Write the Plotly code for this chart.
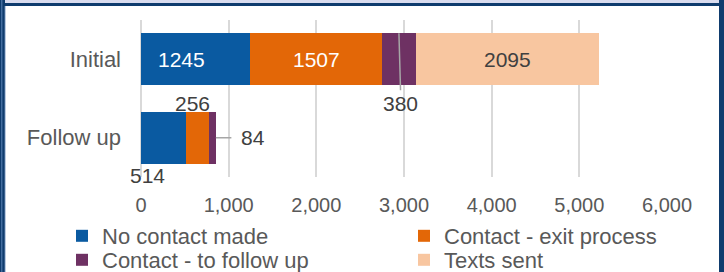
import plotly.graph_objects as go

# ---------------- data ----------------
categories = ["Initial", "Follow up"]
series_names = ["No contact made", "Contact - exit process", "Contact - to follow up", "Texts sent"]
no_contact = [1245, 514]
exit_process = [1507, 256]
to_follow_up = [380, 84]
texts_sent = [2095, None]
x_tickvals = [0, 1000, 2000, 3000, 4000, 5000, 6000]
x_ticktext = ["0", "1,000", "2,000", "3,000", "4,000", "5,000", "6,000"]

# ---------------- style ----------------
colors = ["#0A5AA1", "#E36707", "#6E3163", "#F8C6A0"]
legend_ids = ["legend", "legend2", "legend3", "legend4"]
FONT = "Liberation Sans, Arial, sans-serif"
W, H = 724, 272
L, R, T, B = 141, 57, 20, 95
PW, PH = W - L - R, H - T - B


def px_x(p):
    return (p - L) / PW


def px_y(p):
    return (H - B - p) / PH


series = [no_contact, exit_process, to_follow_up, texts_sent]
fig = go.Figure()
for name, vals, col, lg in zip(series_names, series, colors, legend_ids):
    fig.add_trace(go.Bar(
        y=categories, x=vals, name=name, orientation="h",
        marker=dict(color=col, line=dict(width=0)),
        hoverinfo="x+name", legend=lg,
    ))

# ---------------- data labels ----------------
annotations = []
lab_font = dict(family=FONT, size=21, color="#404040")


def seg_mid(i, k):
    start = sum((series[j][i] or 0) for j in range(k))
    return start + series[k][i] / 2


annotations.append(dict(x=seg_mid(0, 0), y=categories[0], text=str(no_contact[0]), showarrow=False,
                        xshift=-14, font=dict(family=FONT, size=21, color="white")))
annotations.append(dict(x=seg_mid(0, 1), y=categories[0], text=str(exit_process[0]), showarrow=False,
                        font=dict(family=FONT, size=21, color="white")))
annotations.append(dict(x=seg_mid(0, 3), y=categories[0], text=str(texts_sent[0]), showarrow=False,
                        font=lab_font))
annotations.append(dict(x=seg_mid(0, 2), y=categories[0], yshift=26, text=str(to_follow_up[0]),
                        showarrow=True, arrowhead=0, arrowwidth=1.5, arrowcolor="#A6A6A6",
                        ax=2, ay=70, standoff=0, font=lab_font))
annotations.append(dict(x=seg_mid(1, 0), y=categories[1], xshift=-16, yshift=-38, text=str(no_contact[1]),
                        showarrow=False, font=lab_font))
annotations.append(dict(x=seg_mid(1, 1), y=categories[1], xshift=-5, yshift=34, text=str(exit_process[1]),
                        showarrow=False, font=lab_font))
follow_total = sum((s[1] or 0) for s in series)
annotations.append(dict(x=follow_total, y=categories[1], text=str(to_follow_up[1]),
                        showarrow=True, arrowhead=0, arrowwidth=1.5, arrowcolor="#A6A6A6",
                        ax=37, ay=0, standoff=0, startstandoff=8, font=lab_font))

# ---------------- frame (decorative border) ----------------
dark = "#0F3C6E"
shapes = [
    dict(type="rect", xref="paper", yref="paper", x0=px_x(0), x1=px_x(W), y0=px_y(3), y1=px_y(0),
         fillcolor="#D9DCEF", line=dict(width=0), layer="above"),
    dict(type="rect", xref="paper", yref="paper", x0=px_x(0), x1=px_x(W), y0=px_y(6), y1=px_y(3),
         fillcolor=dark, line=dict(width=0), layer="above"),
    dict(type="rect", xref="paper", yref="paper", x0=px_x(0), x1=px_x(5), y0=px_y(H), y1=px_y(0),
         fillcolor=dark, line=dict(width=0), layer="above"),
    dict(type="rect", xref="paper", yref="paper", x0=px_x(1.3), x1=px_x(2.3), y0=px_y(H), y1=px_y(0),
         fillcolor="#5A82B4", line=dict(width=0), layer="above"),
    dict(type="rect", xref="paper", yref="paper", x0=px_x(4.7), x1=px_x(5.7), y0=px_y(H), y1=px_y(6),
         fillcolor="#9FB6D6", line=dict(width=0), layer="above"),
    dict(type="rect", xref="paper", yref="paper", x0=px_x(719), x1=px_x(W), y0=px_y(H), y1=px_y(0),
         fillcolor=dark, line=dict(width=0), layer="above"),
]

leg_common = dict(
    orientation="v", xanchor="left", yanchor="top",
    font=dict(family=FONT, size=22, color="#595959"),
    traceorder="normal", itemclick=False, itemdoubleclick=False,
    bgcolor="rgba(0,0,0,0)", tracegroupgap=0,
)
col_x = [62, 404]
row_y = [215, 239]

fig.update_layout(
    width=W, height=H,
    margin=dict(l=L, r=R, t=T, b=B, pad=0, autoexpand=False),
    barmode="stack", bargap=0.34,
    paper_bgcolor="white", plot_bgcolor="white",
    font=dict(family=FONT, color="#595959"),
    showlegend=True,
    legend=dict(x=px_x(col_x[0]), y=px_y(row_y[0]), **leg_common),
    legend2=dict(x=px_x(col_x[1]), y=px_y(row_y[0]), **leg_common),
    legend3=dict(x=px_x(col_x[0]), y=px_y(row_y[1]), **leg_common),
    legend4=dict(x=px_x(col_x[1]), y=px_y(row_y[1]), **leg_common),
    annotations=annotations,
    shapes=shapes,
)
fig.update_xaxes(
    range=[0, 6000], autorange=False, tickvals=x_tickvals, ticktext=x_ticktext,
    showgrid=True, gridcolor="#D9D9D9", gridwidth=1.5,
    zeroline=True, zerolinecolor="#D9D9D9", zerolinewidth=1.5,
    showline=False, ticks="", ticklabelstandoff=14,
    tickfont=dict(family=FONT, size=20, color="#595959"),
    fixedrange=True,
)
fig.update_yaxes(
    categoryorder="array", categoryarray=categories[::-1],
    range=[-0.5, 1.5], autorange=False,
    showgrid=False, zeroline=False, showline=False, ticks="", ticklabelstandoff=19,
    tickfont=dict(family=FONT, size=22, color="#595959"),
    fixedrange=True,
)

fig.write_html("out.html", config={"displayModeBar": False},
               post_script="document.body.style.margin='0';document.body.style.overflow='hidden';")
